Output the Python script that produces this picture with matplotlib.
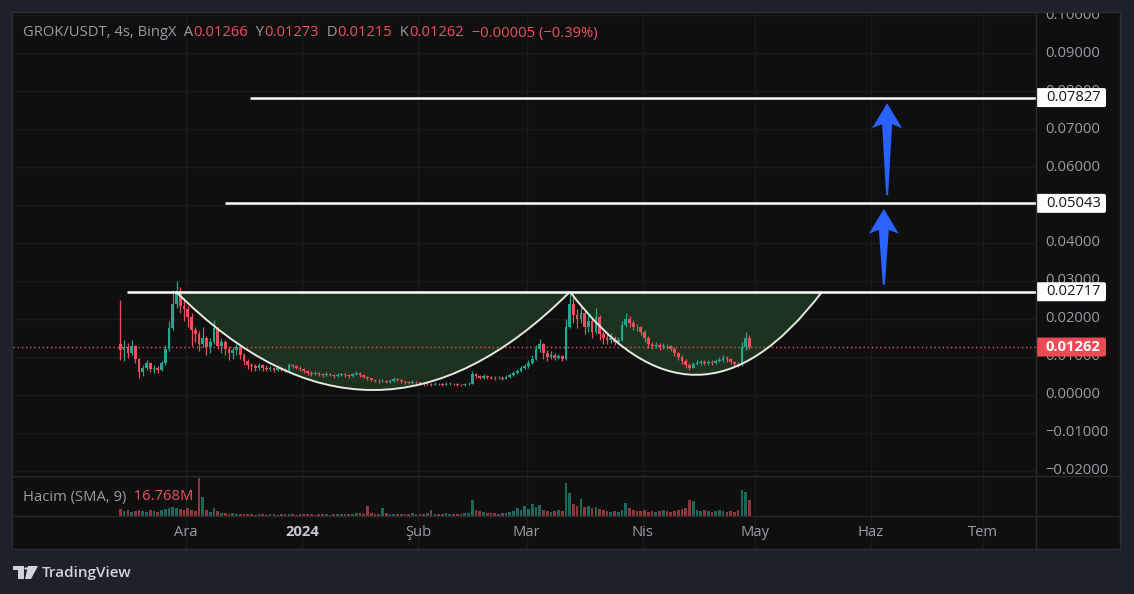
import datetime as dt
import matplotlib
matplotlib.use("Agg")
import matplotlib.pyplot as plt
import matplotlib.dates as mdates
import matplotlib.transforms as mtransforms
from matplotlib.patches import Rectangle, FancyBboxPatch, PathPatch, Polygon, Circle
from matplotlib.path import Path
from matplotlib.lines import Line2D

plt.rcParams['font.family'] = ['Open Sans', 'DejaVu Sans']

W, H = 1134, 594

# --- texts
symbol = "GROK/USDT, 4s, BingX"
legend_ohlc = [("A", "0.01266"), ("Y", "0.01273"), ("D", "0.01215"), ("K", "0.01262")]
legend_change = "−0.00005 (−0.39%)"
volume_title = "Hacim (SMA, 9)"
volume_sma = "16.768M"

# --- daily candles (from 13 Nov 2023)
first_day = dt.datetime(2023, 11, 13)
first_open = 0.0135
closes = [
    0.0118, 0.0125, 0.0110, 0.0130, 0.0095, 0.0060, 0.0072, 0.0085, 0.0068, 0.0070,
    0.0066, 0.0085, 0.0120, 0.0175, 0.0240, 0.0270, 0.0235, 0.0225, 0.0205, 0.0170,
    0.0160, 0.0135, 0.0150, 0.0125, 0.0140, 0.0175, 0.0130, 0.0140, 0.0120, 0.0110,
    0.0118, 0.0125, 0.0105, 0.0090, 0.0080, 0.0075, 0.0070, 0.0078, 0.0072, 0.0068,
    0.0070, 0.0066, 0.0072, 0.0068, 0.0065, 0.0078, 0.0075, 0.0072, 0.0068, 0.0062,
    0.0058, 0.0055, 0.0058, 0.0055, 0.0052, 0.0056, 0.0053, 0.0050, 0.0052, 0.0054,
    0.0052, 0.0049, 0.0055, 0.0058, 0.0052, 0.0048, 0.0044, 0.0040, 0.0038, 0.0036,
    0.0038, 0.0035, 0.0037, 0.0042, 0.0040, 0.0036, 0.0033, 0.0032, 0.0035, 0.0033,
    0.0030, 0.0028, 0.0029, 0.0027, 0.0030, 0.0028, 0.0027, 0.0029, 0.0030, 0.0028,
    0.0027, 0.0026, 0.0028, 0.0030, 0.0055, 0.0050, 0.0046, 0.0050, 0.0047, 0.0045,
    0.0044, 0.0046, 0.0043, 0.0048, 0.0052, 0.0058, 0.0062, 0.0070, 0.0075, 0.0085,
    0.0095, 0.0120, 0.0135, 0.0110, 0.0100, 0.0105, 0.0098, 0.0102, 0.0095, 0.0180,
    0.0240, 0.0210, 0.0200, 0.0215, 0.0180, 0.0195, 0.0165, 0.0205, 0.0160, 0.0150,
    0.0145, 0.0150, 0.0140, 0.0145, 0.0185, 0.0200, 0.0190, 0.0180, 0.0178, 0.0165,
    0.0150, 0.0135, 0.0128, 0.0132, 0.0125, 0.0130, 0.0128, 0.0122, 0.0110, 0.0100,
    0.0090, 0.0080, 0.0072, 0.0082, 0.0085, 0.0088, 0.0084, 0.0088, 0.0085, 0.0090,
    0.0092, 0.0098, 0.0095, 0.0088, 0.0082, 0.0078, 0.0125, 0.0150, 0.01262,
]
highs = [
    0.0251, 0.0145, 0.0138, 0.0145, 0.0132, 0.0098, 0.0080, 0.0092, 0.0087, 0.0078,
    0.0075, 0.0090, 0.0132, 0.0195, 0.0275, 0.0300, 0.0285, 0.0255, 0.0235, 0.0215,
    0.0178, 0.0168, 0.0180, 0.0155, 0.0150, 0.0197, 0.0180, 0.0150, 0.0145, 0.0128,
    0.0125, 0.0135, 0.0130, 0.0110, 0.0095, 0.0085, 0.0082, 0.0084, 0.0082, 0.0078,
    0.0076, 0.0074, 0.0078, 0.0076, 0.0072, 0.0084, 0.0082, 0.0080, 0.0076, 0.0070,
    0.0066, 0.0062, 0.0063, 0.0061, 0.0058, 0.0060, 0.0059, 0.0056, 0.0057, 0.0059,
    0.0057, 0.0055, 0.0059, 0.0063, 0.0060, 0.0054, 0.0050, 0.0046, 0.0043, 0.0041,
    0.0042, 0.0040, 0.0041, 0.0047, 0.0045, 0.0042, 0.0038, 0.0036, 0.0039, 0.0037,
    0.0035, 0.0032, 0.0033, 0.0031, 0.0034, 0.0032, 0.0031, 0.0033, 0.0034, 0.0032,
    0.0031, 0.0030, 0.0032, 0.0034, 0.0062, 0.0058, 0.0053, 0.0054, 0.0053, 0.0050,
    0.0049, 0.0051, 0.0049, 0.0053, 0.0057, 0.0064, 0.0068, 0.0076, 0.0082, 0.0092,
    0.0105, 0.0132, 0.0147, 0.0138, 0.0118, 0.0115, 0.0110, 0.0108, 0.0106, 0.0200,
    0.0271, 0.0262, 0.0225, 0.0235, 0.0220, 0.0210, 0.0200, 0.0228, 0.0210, 0.0168,
    0.0160, 0.0163, 0.0155, 0.0152, 0.0195, 0.0216, 0.0208, 0.0198, 0.0188, 0.0182,
    0.0170, 0.0155, 0.0140, 0.0140, 0.0136, 0.0137, 0.0135, 0.0132, 0.0126, 0.0114,
    0.0105, 0.0094, 0.0084, 0.0088, 0.0091, 0.0093, 0.0092, 0.0093, 0.0091, 0.0096,
    0.0100, 0.0105, 0.0102, 0.0098, 0.0090, 0.0086, 0.0140, 0.0165, 0.0158,
]
lows = [
    0.0093, 0.0090, 0.0098, 0.0105, 0.0085, 0.0045, 0.0050, 0.0066, 0.0060, 0.0058,
    0.0058, 0.0062, 0.0080, 0.0115, 0.0170, 0.0230, 0.0215, 0.0195, 0.0180, 0.0130,
    0.0140, 0.0115, 0.0125, 0.0105, 0.0110, 0.0135, 0.0120, 0.0110, 0.0105, 0.0092,
    0.0095, 0.0105, 0.0095, 0.0080, 0.0068, 0.0063, 0.0064, 0.0066, 0.0064, 0.0062,
    0.0062, 0.0060, 0.0062, 0.0062, 0.0060, 0.0063, 0.0070, 0.0068, 0.0063, 0.0057,
    0.0053, 0.0050, 0.0052, 0.0050, 0.0048, 0.0050, 0.0049, 0.0046, 0.0047, 0.0049,
    0.0048, 0.0045, 0.0047, 0.0052, 0.0048, 0.0044, 0.0040, 0.0036, 0.0034, 0.0032,
    0.0033, 0.0031, 0.0032, 0.0035, 0.0036, 0.0032, 0.0029, 0.0028, 0.0030, 0.0029,
    0.0026, 0.0024, 0.0025, 0.0024, 0.0025, 0.0025, 0.0024, 0.0025, 0.0026, 0.0025,
    0.0024, 0.0023, 0.0024, 0.0026, 0.0029, 0.0045, 0.0042, 0.0043, 0.0043, 0.0041,
    0.0040, 0.0041, 0.0039, 0.0041, 0.0046, 0.0050, 0.0054, 0.0060, 0.0068, 0.0072,
    0.0082, 0.0092, 0.0112, 0.0095, 0.0090, 0.0094, 0.0092, 0.0094, 0.0090, 0.0092,
    0.0175, 0.0190, 0.0175, 0.0190, 0.0160, 0.0165, 0.0150, 0.0160, 0.0145, 0.0135,
    0.0135, 0.0138, 0.0132, 0.0135, 0.0142, 0.0178, 0.0180, 0.0170, 0.0168, 0.0158,
    0.0140, 0.0124, 0.0120, 0.0124, 0.0118, 0.0120, 0.0120, 0.0115, 0.0102, 0.0092,
    0.0082, 0.0072, 0.0066, 0.0070, 0.0078, 0.0080, 0.0079, 0.0080, 0.0080, 0.0082,
    0.0086, 0.0088, 0.0088, 0.0082, 0.0076, 0.0074, 0.0076, 0.0118, 0.01215,
]
volumes = [  # millions
    70, 50, 60, 40, 50, 60, 50, 40, 60, 50,
    40, 60, 70, 80, 90, 80, 70, 60, 80, 60,
    50, 390, 190, 60, 40, 80, 50, 30, 30, 20,
    30, 20, 20, 20, 20, 20, 15, 20, 20, 15,
    20, 20, 15, 20, 20, 20, 20, 15, 20, 20,
    20, 20, 15, 20, 20, 20, 15, 20, 20, 20,
    20, 20, 20, 30, 30, 20, 100, 30, 20, 20,
    80, 30, 20, 20, 20, 20, 20, 20, 30, 20,
    20, 20, 30, 60, 20, 20, 20, 30, 20, 20,
    20, 20, 30, 30, 160, 60, 50, 40, 30, 30,
    30, 20, 30, 30, 40, 50, 80, 60, 100, 70,
    120, 90, 110, 60, 50, 40, 50, 60, 50, 340,
    230, 120, 100, 170, 90, 100, 80, 90, 70, 60,
    50, 40, 50, 40, 60, 130, 80, 60, 50, 50,
    60, 40, 50, 40, 50, 60, 50, 40, 50, 60,
    70, 80, 160, 150, 60, 50, 60, 50, 40, 50,
    60, 50, 40, 50, 40, 60, 270, 240, 160,
]
last_price = 0.01262

# --- drawings
levels = [0.02717, 0.05043, 0.07827]
level_starts = [dt.datetime(2023, 11, 15, 6), dt.datetime(2023, 12, 11, 10), dt.datetime(2023, 12, 18, 2)]
cup_starts = [dt.datetime(2023, 11, 28, 9), dt.datetime(2024, 3, 12, 14)]
cup_ends = [dt.datetime(2024, 3, 12, 14), dt.datetime(2024, 5, 18, 22)]
cup_bottoms = [0.0013, 0.0053]
arrow_dates = [dt.datetime(2024, 6, 4, 10), dt.datetime(2024, 6, 5, 7)]
arrow_from = [0.0290, 0.0526]
arrow_to = [0.0490, 0.0768]

# --- axes
month_ticks = [dt.datetime(2023, 12, 1), dt.datetime(2024, 1, 1), dt.datetime(2024, 2, 1),
               dt.datetime(2024, 3, 1), dt.datetime(2024, 4, 1), dt.datetime(2024, 5, 1),
               dt.datetime(2024, 6, 1), dt.datetime(2024, 7, 1)]
month_labels = ["Ara", "2024", "Şub", "Mar", "Nis", "May", "Haz", "Tem"]
price_ticks = [-0.02, -0.01, 0.0, 0.01, 0.02, 0.03, 0.04, 0.05, 0.06, 0.07, 0.08, 0.09, 0.10]
XLIM = (dt.datetime(2023, 10, 15, 19, 40), dt.datetime(2024, 7, 15, 1, 30))
YLIM = (-0.02132, 0.10053)

BG = "#0f0f0f"
OUTER = "#1e212a"
GRID = "#1a1a1a"
SEP = "#2b2b2b"
TXT = "#9a9da5"
UP = "#26a48e"
DOWN = "#ec4f5b"
RED = "#f0525f"
FONT = 10.6

fig = plt.figure(figsize=(W / 100, H / 100), dpi=100, facecolor=OUTER)
fig.patches.append(Rectangle((12 / W, 1 - 549 / H), 1108 / W, 537 / H, transform=fig.transFigure,
                             fc=BG, ec="#2a2e39", lw=1, zorder=-10))


def fig_box(x0, y0, x1, y1):
    return [x0 / W, 1 - y1 / H, (x1 - x0) / W, (y1 - y0) / H]


ax = fig.add_axes(fig_box(13, 13, 1036, 476))
axv = fig.add_axes(fig_box(13, 477, 1036, 516))
axt = fig.add_axes(fig_box(13, 516, 1036, 549))
axp = fig.add_axes(fig_box(1036, 13, 1120, 476))
for a in (ax, axv, axt, axp):
    a.set_facecolor("none")
    for s in a.spines.values():
        s.set_visible(False)
    a.set_xticks([])
    a.set_yticks([])

for a in (ax, axv, axt):
    a.set_xlim(mdates.date2num(XLIM[0]), mdates.date2num(XLIM[1]))
    for m in month_ticks:
        a.axvline(mdates.date2num(m), color=GRID, lw=1, zorder=0)
ax.set_ylim(*YLIM)
axp.set_ylim(*YLIM)
axp.set_xlim(0, 84)
axt.set_ylim(0, 1)
for p in price_ticks:
    ax.axhline(p, color=GRID, lw=1, zorder=0)

# candles
xs = mdates.date2num([first_day + dt.timedelta(days=i, hours=12) for i in range(len(closes))])
opens = [first_open] + closes[:-1]
colors = [UP if c >= o else DOWN for o, c in zip(opens, closes)]
ax.vlines(xs, lows, highs, colors=colors, lw=0.9, zorder=3)
ax.bar(xs, [max(abs(c - o), 0.00006) for o, c in zip(opens, closes)],
       bottom=[min(o, c) for o, c in zip(opens, closes)],
       width=0.72, color=colors, lw=0, zorder=3)

# volume
axv.bar(xs, volumes, width=0.72, color=colors, alpha=0.6, lw=0)
axv.set_ylim(0, max(volumes) * 1.02)

# last price line
ax.axhline(last_price, color=RED, lw=1, ls=(0, (1, 2)), zorder=2)

# cups
for t0, t1, bottom in zip(cup_starts, cup_ends, cup_bottoms):
    top = levels[0]
    a0, a1 = mdates.date2num(t0), mdates.date2num(t1)
    ctrl = ((a0 + a1) / 2, top - 2 * (top - bottom))
    fill = Path([(a0, top), ctrl, (a1, top), (a0, top)],
                [Path.MOVETO, Path.CURVE3, Path.CURVE3, Path.CLOSEPOLY])
    ax.add_patch(PathPatch(fill, fc="#1e331f", ec="none", zorder=1))
    curve = Path([(a0, top), ctrl, (a1, top)], [Path.MOVETO, Path.CURVE3, Path.CURVE3])
    ax.add_patch(PathPatch(curve, fc="none", ec="#e6e8e0", lw=1.4, zorder=5))

# horizontal rays
for lvl, t in zip(levels, level_starts):
    ax.hlines(lvl, mdates.date2num(t), mdates.date2num(XLIM[1]), color="white", lw=1.8, zorder=6)

# arrows
fig.canvas.draw()
for t, y0, y1 in zip(arrow_dates, arrow_from, arrow_to):
    bx, by = ax.transData.transform((mdates.date2num(t), y0))
    tx, ty = ax.transData.transform((mdates.date2num(t), y1))
    pts = [(tx, ty), (tx + 15, ty - 25), (tx + 5, ty - 21), (bx + 1, by),
           (bx - 1, by), (tx - 5, ty - 21), (tx - 15, ty - 25)]
    ax.add_patch(Polygon(pts, closed=True, fc="#2962ff", ec="none",
                         transform=mtransforms.IdentityTransform(), zorder=7))

# price scale
ppu = 463 / (YLIM[1] - YLIM[0])
for p in price_ticks:
    lab = f"{p:.5f}".replace("-", "−")
    axp.text(9, p, lab, color=TXT, fontsize=FONT, va="center", ha="left", clip_on=True)
for lvl in levels:
    axp.add_patch(FancyBboxPatch((0, lvl - 9.5 / ppu), 70, 19 / ppu,
                                 boxstyle="round,pad=0,rounding_size=2",
                                 mutation_aspect=1 / ppu, fc="white", ec="none", zorder=5))
    axp.text(10, lvl, f"{lvl:.5f}", color="#131313", fontsize=FONT, va="center", ha="left", zorder=6)
axp.add_patch(FancyBboxPatch((0, last_price - 9.5 / ppu), 70, 19 / ppu,
                             boxstyle="round,pad=0,rounding_size=2",
                             mutation_aspect=1 / ppu, fc="#ec4a56", ec="none", zorder=5))
axp.text(10, last_price, f"{last_price:.5f}", color="white", fontsize=FONT,
         fontweight="bold", va="center", ha="left", zorder=6)

# time scale
for m, lab in zip(month_ticks, month_labels):
    bold = lab == "2024"
    axt.text(mdates.date2num(m), 0.5, lab, color="#c8cad0" if bold else TXT, fontsize=FONT,
             fontweight="bold" if bold else "normal", va="center", ha="center")

# separators
for y in (476, 516):
    fig.add_artist(Line2D([12 / W, 1120 / W], [1 - y / H] * 2, color=SEP, lw=1))
fig.add_artist(Line2D([1036 / W] * 2, [1 - 13 / H, 1 - 549 / H], color=SEP, lw=1))


def text_run(x_px, y_px, parts, **kw):
    r = fig.canvas.get_renderer()
    for s, c in parts:
        t = fig.text(x_px / W, 1 - y_px / H, s, color=c, va="center", ha="left", **kw)
        x_px += t.get_window_extent(r).width


parts = [(symbol, TXT)]
for k, v in legend_ohlc:
    parts += [("  " + k, TXT), (v, RED)]
parts += [("  " + legend_change, RED)]
text_run(23, 33, parts, fontsize=FONT)
text_run(23, 497, [(volume_title, TXT), ("  " + volume_sma, RED)], fontsize=FONT)

# TradingView logo
logo = "#d1d4dc"
for rect in [(13, 566, 11, 4), (18, 566, 6, 13)]:
    fig.patches.append(Rectangle((rect[0] / W, 1 - (rect[1] + rect[3]) / H), rect[2] / W, rect[3] / H,
                                 transform=fig.transFigure, fc=logo, ec="none"))
fig.patches.append(Polygon([(28 / W, 1 - 566 / H), (38 / W, 1 - 566 / H), (31 / W, 1 - 579 / H),
                            (25 / W, 1 - 579 / H)], closed=True, transform=fig.transFigure,
                           fc=logo, ec="none"))
fig.patches.append(Circle((26.5 / W, 1 - 568.5 / H), 2.2 / W, transform=fig.transFigure,
                          fc=logo, ec="none"))
fig.text(42 / W, 1 - 573 / H, "TradingView", color=logo, fontsize=11, fontweight="semibold",
         va="center", ha="left")

fig.savefig("out.png", dpi=100, facecolor=OUTER)
